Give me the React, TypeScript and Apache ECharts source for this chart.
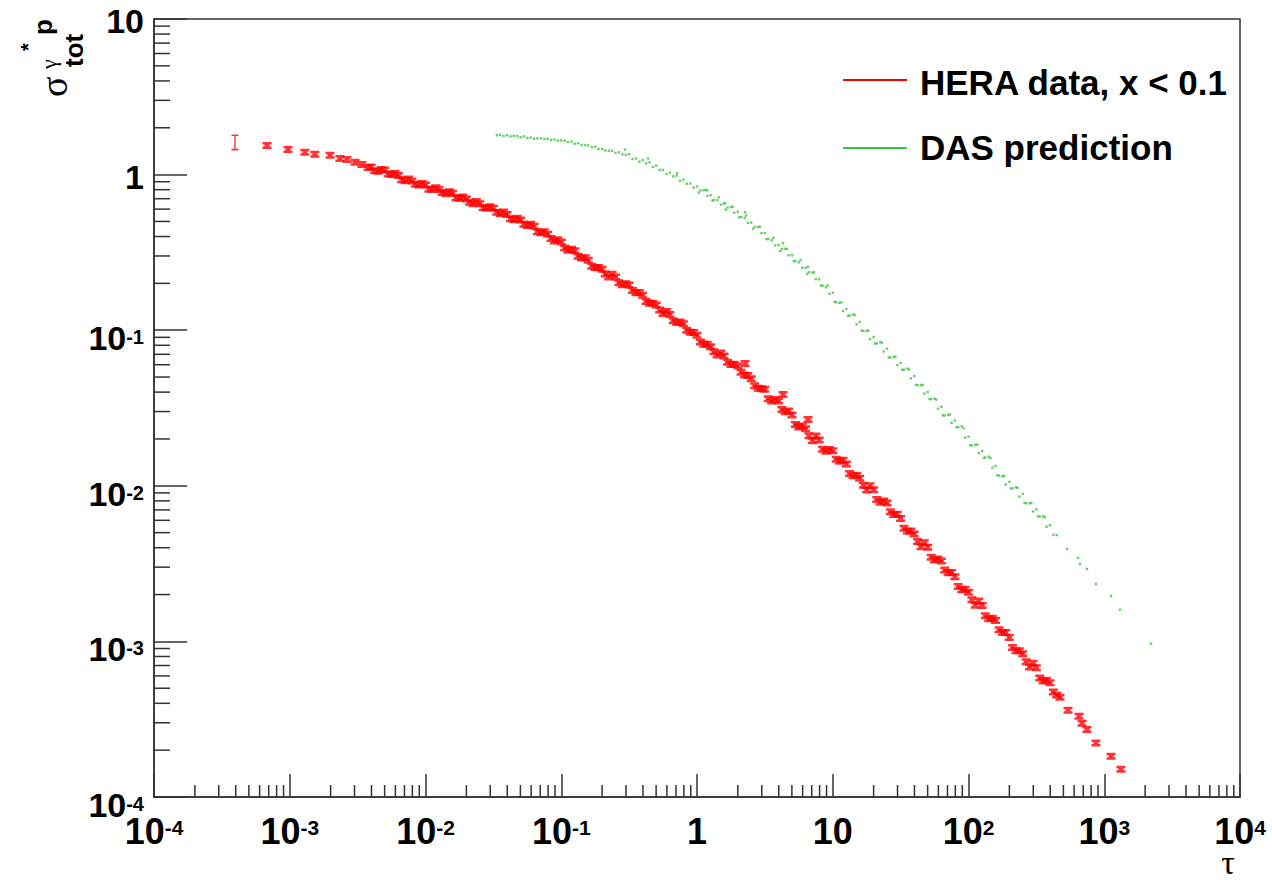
import React, { useEffect, useRef } from "react";
import * as echarts from "echarts";

// HERA data, x < 0.1 : [tau, sigma_tot(gamma* p)]
const heraData: [number, number][] = [
  [3.95e-4, 1.61], [6.8e-4, 1.54], [9.7e-4, 1.45], [1.29e-3, 1.39], [1.53e-3, 1.35],
  [1.98e-3, 1.33], [2.34e-3, 1.27], [2.64e-3, 1.25], [3.03e-3, 1.2], [3.4e-3, 1.16], [3.77e-3, 1.11],
  [3.98e-3, 1.12], [4.22e-3, 1.06], [4.47e-3, 1.05], [4.73e-3, 1.08], [5.01e-3, 1.07], [5.31e-3, 1.01],
  [5.62e-3, 1.0], [5.96e-3, 1.02], [6.31e-3, 0.986], [6.68e-3, 0.926], [7.08e-3, 0.912], [7.5e-3, 0.937],
  [7.94e-3, 0.91], [8.41e-3, 0.866], [8.91e-3, 0.857], [9.44e-3, 0.878],
  [1.0e-2, 0.857], [1.06e-2, 0.806], [1.12e-2, 0.804], [1.19e-2, 0.824], [1.26e-2, 0.802], [1.33e-2, 0.767],
  [1.41e-2, 0.753], [1.5e-2, 0.776], [1.58e-2, 0.759], [1.68e-2, 0.708], [1.78e-2, 0.706], [1.88e-2, 0.717],
  [2.0e-2, 0.698], [2.11e-2, 0.663], [2.24e-2, 0.649], [2.37e-2, 0.671], [2.51e-2, 0.649], [2.66e-2, 0.612],
  [2.82e-2, 0.61], [2.99e-2, 0.621], [3.16e-2, 0.608], [3.35e-2, 0.573], [3.55e-2, 0.561], [3.76e-2, 0.575],
  [3.98e-2, 0.555], [4.22e-2, 0.521], [4.47e-2, 0.512], [4.73e-2, 0.524], [5.01e-2, 0.511], [5.31e-2, 0.48],
  [5.62e-2, 0.471], [5.96e-2, 0.479], [6.31e-2, 0.465], [6.68e-2, 0.43], [7.08e-2, 0.423], [7.5e-2, 0.429],
  [7.94e-2, 0.413], [8.41e-2, 0.388], [8.91e-2, 0.375], [9.44e-2, 0.381],
  [0.1, 0.369], [0.106, 0.337], [0.112, 0.327], [0.119, 0.331], [0.126, 0.324], [0.133, 0.299], [0.141, 0.291],
  [0.15, 0.292], [0.158, 0.282], [0.168, 0.258], [0.178, 0.252], [0.188, 0.253], [0.2, 0.246], [0.211, 0.23],
  [0.224, 0.22], [0.237, 0.229], [0.251, 0.22], [0.266, 0.202], [0.282, 0.196], [0.299, 0.199], [0.316, 0.195],
  [0.335, 0.18], [0.355, 0.174], [0.376, 0.175], [0.398, 0.168], [0.422, 0.153], [0.447, 0.149], [0.473, 0.149],
  [0.501, 0.145], [0.531, 0.135], [0.562, 0.128], [0.596, 0.132], [0.631, 0.126], [0.668, 0.115], [0.708, 0.112],
  [0.75, 0.113], [0.794, 0.11], [0.841, 0.1], [0.891, 0.097], [0.944, 0.0968],
  [1.0, 0.0927], [1.06, 0.0841], [1.12, 0.0813], [1.19, 0.0811], [1.26, 0.0783], [1.33, 0.0727], [1.41, 0.0692],
  [1.5, 0.0714], [1.58, 0.0682], [1.68, 0.0622], [1.78, 0.0601], [1.88, 0.0605], [2.0, 0.0589], [2.11, 0.0536],
  [2.24, 0.0515], [2.37, 0.0512], [2.51, 0.0488], [2.66, 0.044], [2.82, 0.0424], [2.99, 0.042],
  [3.16, 0.0417], [3.35, 0.0363], [3.55, 0.0351], [3.76, 0.0359], [3.98, 0.0351], [4.22, 0.0309], [4.47, 0.0299],
  [4.73, 0.0302], [5.01, 0.0285], [5.31, 0.0248], [5.62, 0.0239], [5.96, 0.0242], [6.31, 0.0233], [6.68, 0.021],
  [7.08, 0.0195], [7.5, 0.0209], [7.94, 0.0197], [8.41, 0.0172], [8.91, 0.0167], [9.44, 0.0171],
  [10.0, 0.0168], [10.6, 0.0148], [11.2, 0.0144], [11.9, 0.0146], [12.6, 0.0138], [13.3, 0.012], [14.1, 0.0116],
  [15.0, 0.0117], [15.8, 0.0112], [16.8, 0.0101], [17.8, 0.0094], [18.8, 0.01], [20.0, 0.00944], [21.1, 0.00818],
  [22.4, 0.00785], [23.7, 0.00799], [25.1, 0.00776], [26.6, 0.0068], [28.2, 0.00653], [29.9, 0.00657],
  [31.6, 0.00617], [33.5, 0.00533], [35.5, 0.00511], [37.6, 0.00512], [39.8, 0.0049], [42.2, 0.00438],
  [44.7, 0.00406], [47.3, 0.00431], [50.1, 0.00403], [53.1, 0.00348], [56.2, 0.00334], [59.6, 0.00339],
  [63.1, 0.00329], [66.8, 0.00288], [70.8, 0.00276], [75.0, 0.00277], [79.4, 0.0026], [84.1, 0.00225],
  [89.1, 0.00215], [94.4, 0.00216],
  [100, 0.00207], [106, 0.00185], [112, 0.00171], [119, 0.00182], [126, 0.0017], [133, 0.00146], [141, 0.0014],
  [150, 0.00141], [158, 0.00136], [168, 0.00119], [178, 0.00114], [188, 0.00114], [200, 0.00106], [211, 0.000912],
  [224, 0.000871], [237, 0.000871], [251, 0.000832], [266, 0.000741], [282, 0.000684], [299, 0.000724],
  [316, 0.000676], [335, 0.000582], [355, 0.000556], [376, 0.000562], [398, 0.000543], [422, 0.000473],
  [447, 0.000452], [472, 0.000437], [541, 0.000361], [652, 0.00033], [686, 0.000298], [746, 0.000272],
  [869, 0.000222], [1122, 0.000183], [1327, 0.000151],
  [2.26, 0.061], [4.3, 0.0386], [6.58, 0.0267],
];

// DAS prediction : [tau, sigma]
const dasData: [number, number][] = [
  [0.0336, 1.79], [0.0355, 1.8], [0.0376, 1.77], [0.0398, 1.79], [0.0422, 1.76], [0.0447, 1.77], [0.0473, 1.77],
  [0.0501, 1.74], [0.0531, 1.76], [0.0562, 1.72], [0.0596, 1.73], [0.0631, 1.7], [0.0668, 1.71], [0.0708, 1.71],
  [0.075, 1.69], [0.0794, 1.7], [0.0841, 1.67], [0.0891, 1.68], [0.0944, 1.65], [0.1, 1.66], [0.106, 1.65],
  [0.112, 1.62], [0.119, 1.63], [0.126, 1.58], [0.133, 1.59], [0.141, 1.55], [0.15, 1.55], [0.158, 1.54],
  [0.168, 1.5], [0.178, 1.51], [0.188, 1.46], [0.2, 1.46], [0.211, 1.43], [0.224, 1.42], [0.237, 1.42],
  [0.251, 1.38], [0.266, 1.39], [0.282, 1.35], [0.299, 1.34],
  [0.316, 1.35], [0.335, 1.26], [0.355, 1.27], [0.376, 1.21], [0.398, 1.24], [0.422, 1.18], [0.447, 1.2],
  [0.473, 1.12], [0.501, 1.14], [0.531, 1.07], [0.562, 1.07], [0.596, 1.01], [0.631, 1.03], [0.668, 0.974],
  [0.708, 0.984], [0.75, 0.911], [0.794, 0.929], [0.841, 0.872], [0.891, 0.877], [0.944, 0.824],
  [1.0, 0.839], [1.06, 0.791], [1.12, 0.793], [1.19, 0.729], [1.26, 0.738], [1.33, 0.687], [1.41, 0.685],
  [1.5, 0.641], [1.58, 0.65], [1.68, 0.614], [1.78, 0.618], [1.88, 0.569], [2.0, 0.577], [2.11, 0.533],
  [2.24, 0.527], [2.37, 0.489], [2.51, 0.491], [2.66, 0.461], [2.82, 0.461], [2.99, 0.42], [3.16, 0.421],
  [3.35, 0.385], [3.55, 0.378], [3.76, 0.351], [3.98, 0.353], [4.22, 0.332], [4.47, 0.333], [4.73, 0.303],
  [5.01, 0.303], [5.31, 0.278], [5.62, 0.273], [5.96, 0.252], [6.31, 0.252], [6.68, 0.236], [7.08, 0.235],
  [7.5, 0.213], [7.94, 0.212], [8.41, 0.193], [8.91, 0.189], [9.44, 0.171],
  [10.0, 0.174], [10.6, 0.151], [11.2, 0.15], [11.9, 0.133], [12.6, 0.137], [13.3, 0.124], [14.1, 0.126],
  [15.0, 0.109], [15.8, 0.113], [16.8, 0.099], [17.8, 0.0989], [18.8, 0.0876], [20.0, 0.0904], [21.1, 0.0824],
  [22.4, 0.0839], [23.7, 0.073], [25.1, 0.076], [26.6, 0.0668], [28.2, 0.0671], [29.9, 0.0596], [31.6, 0.0615],
  [33.5, 0.0558], [35.5, 0.0566], [37.6, 0.049], [39.8, 0.0507], [42.2, 0.0444], [44.7, 0.0444], [47.3, 0.0391],
  [50.1, 0.0401], [53.1, 0.0361], [56.2, 0.0363], [59.6, 0.0313], [63.1, 0.0322], [66.8, 0.0283], [70.8, 0.0285],
  [75.0, 0.0254], [79.4, 0.0263], [84.1, 0.0238], [89.1, 0.0241], [94.4, 0.0204],
  [100, 0.0207], [106, 0.0182], [112, 0.0183], [119, 0.0162], [126, 0.0167], [133, 0.0152], [141, 0.0154],
  [150, 0.0131], [158, 0.0134], [168, 0.0116], [178, 0.0115], [188, 0.0102], [200, 0.0106], [211, 0.00964],
  [224, 0.00979], [237, 0.00852], [251, 0.00887], [266, 0.00773], [282, 0.00771], [299, 0.00684], [316, 0.00706],
  [335, 0.00635], [355, 0.00638], [376, 0.00546], [398, 0.00558], [422, 0.00485], [447, 0.00482],
  [532, 0.00393], [641, 0.00344], [662, 0.00315], [746, 0.00292], [869, 0.00234], [1122, 0.00196],
  [1306, 0.0016], [2208, 0.000968],
  [0.295, 1.45], [0.436, 1.27], [0.713, 1.02], [1.19, 0.792], [1.61, 0.655], [2.26, 0.573], [4.3, 0.363], [6.58, 0.255],
  [1.03, 0.766], [1.16, 0.798], [1.3, 0.681], [1.45, 0.714], [1.63, 0.595], [1.83, 0.622], [2.05, 0.531],
  [2.3, 0.546], [2.59, 0.448], [2.9, 0.462], [3.25, 0.385], [3.65, 0.392], [4.1, 0.322], [4.6, 0.333],
  [5.16, 0.278], [5.79, 0.282], [6.49, 0.23], [7.29, 0.235], [8.18, 0.194], [9.17, 0.194],
  [10.3, 0.152], [11.6, 0.151], [13.0, 0.124], [14.5, 0.125], [16.3, 0.0994], [18.3, 0.0995], [20.5, 0.082],
  [23.0, 0.0831], [25.9, 0.0669], [29.0, 0.0676], [32.5, 0.0557], [36.5, 0.0559], [41.0, 0.0445], [46.0, 0.0445],
  [51.6, 0.0361], [57.9, 0.0358], [64.9, 0.0284], [72.9, 0.0288], [81.8, 0.0238], [91.7, 0.0235],
  [103, 0.0182], [116, 0.0184], [130, 0.0151], [145, 0.0151], [163, 0.0117], [183, 0.0116], [205, 0.0096],
  [230, 0.0097], [259, 0.00778], [290, 0.00776], [325, 0.00637], [365, 0.00627],
];

const xDecades = [-4, -3, -2, -1, 0, 1, 2, 3];
const yDecades = [-4, -3, -2, -1, 0];
const minorMultipliers = [2, 3, 4, 5, 6, 7, 8, 9];

const legendNames = ["HERA data, x < 0.1", "DAS prediction"];
const RED = "#ff0000";
const GREEN = "#3fc43f";
const AXIS = "#333333";
const SANS = '"Liberation Sans", Arial, Helvetica, sans-serif';
const SERIF = '"Liberation Serif", "DejaVu Serif", serif';

const X_MIN = 1e-4, X_MAX = 1e4, Y_MIN = 1e-4, Y_MAX = 10;

function expOf(v: number) {
  return Math.round(Math.log10(v));
}

export default function App() {
  const ref = useRef<HTMLDivElement>(null);
  useEffect(() => {
    if (!ref.current) return;
    const chart = echarts.init(ref.current, undefined, { renderer: "svg" });

    const xMinor: number[][] = [];
    xDecades.forEach((d) => minorMultipliers.forEach((m) => xMinor.push([m * Math.pow(10, d), Y_MIN])));
    const yMinor: number[][] = [];
    yDecades.forEach((d) => minorMultipliers.forEach((m) => yMinor.push([X_MIN, m * Math.pow(10, d)])));

    const IShape = "path://M0,0H9V2.5H7V4.5H9V7H0V4.5H2V2.5H0Z";
    const TallI = "path://M0,0H7V1.6H4.2V14.4H7V16H0V14.4H2.8V1.6H0Z";

    const rot = Math.PI / 2;
    const titleText = (x: number, y: number, text: string, font: string) => ({
      type: "text", x, y, rotation: rot,
      style: { text, font, fill: "#000", align: "left", verticalAlign: "middle" },
    });

    const option: any = {
      animation: false,
      backgroundColor: "#ffffff",
      grid: {
        left: 154, top: 16, right: 32, bottom: 83,
        show: true, borderColor: AXIS, borderWidth: 1.5, backgroundColor: "transparent",
      },
      xAxis: {
        type: "log", logBase: 10, min: X_MIN, max: X_MAX, splitNumber: 8,
        axisLine: { show: true, lineStyle: { color: AXIS, width: 1.5 } },
        axisTick: { show: true, inside: true, length: 23, lineStyle: { color: AXIS, width: 1.5 } },
        splitLine: { show: false },
        axisLabel: {
          margin: 20,
          formatter: (v: number) => {
            const e = expOf(v);
            if (e === 0) return "{b|1}";
            if (e === 1) return "{b|10}";
            return "{b|10}{s|" + e + "}";
          },
          rich: {
            b: { fontSize: 36, fontWeight: "bold", fontFamily: SANS, color: "#000", lineHeight: 28 },
            s: { fontSize: 21, fontWeight: "bold", fontFamily: SANS, color: "#000", lineHeight: 16, verticalAlign: "top" },
          },
        },
      },
      yAxis: {
        type: "log", logBase: 10, min: Y_MIN, max: Y_MAX, splitNumber: 5,
        axisLine: { show: true, lineStyle: { color: AXIS, width: 1.5 } },
        axisTick: { show: true, inside: true, length: 33, lineStyle: { color: AXIS, width: 1.5 } },
        splitLine: { show: false },
        axisLabel: {
          margin: 10,
          formatter: (v: number) => {
            const e = expOf(v);
            if (e === 0) return "{c|1}";
            if (e === 1) return "{c|10}";
            return "{b|10}{s|" + e + "}";
          },
          rich: {
            b: { fontSize: 34, fontWeight: "bold", fontFamily: SANS, color: "#000", lineHeight: 34, padding: [16, 0, 0, 0] },
            c: { fontSize: 34, fontWeight: "bold", fontFamily: SANS, color: "#000", lineHeight: 34, padding: [4, 0, 0, 0] },
            s: { fontSize: 20, fontWeight: "bold", fontFamily: SANS, color: "#000", lineHeight: 20, verticalAlign: "top", padding: [14, 0, 0, 0] },
          },
        },
      },
      series: [
        {
          name: legendNames[1],
          type: "scatter",
          symbol: "rect",
          symbolSize: 2.4,
          itemStyle: { color: GREEN },
          data: dasData,
          silent: true,
          z: 3,
        },
        {
          name: legendNames[0],
          type: "scatter",
          symbol: IShape,
          symbolKeepAspect: false,
          symbolSize: [9, 7],
          itemStyle: { color: RED },
          data: heraData.map((p, i) => (i === 0 ? { value: p, symbolSize: [7, 16], symbol: TallI } : p)),
          silent: true,
          z: 4,
        },
        {
          type: "custom",
          silent: true,
          data: xMinor,
          z: 5,
          renderItem: (params: any, api: any) => {
            const p = api.coord([api.value(0), api.value(1)]);
            return {
              type: "line",
              shape: { x1: p[0], y1: p[1], x2: p[0], y2: p[1] - 12 },
              style: { stroke: AXIS, lineWidth: 1.5 },
            };
          },
        },
        {
          type: "custom",
          silent: true,
          data: yMinor,
          z: 5,
          renderItem: (params: any, api: any) => {
            const p = api.coord([api.value(0), api.value(1)]);
            return {
              type: "line",
              shape: { x1: p[0], y1: p[1], x2: p[0] + 16, y2: p[1] },
              style: { stroke: AXIS, lineWidth: 1.5 },
            };
          },
        },
      ],
      graphic: [
        { type: "line", shape: { x1: 843, y1: 80, x2: 907, y2: 80 }, style: { stroke: RED, lineWidth: 2 } },
        {
          type: "text", x: 920, y: 82,
          style: { text: legendNames[0], font: "bold 35px " + SANS, fill: "#000", align: "left", verticalAlign: "middle" },
        },
        { type: "line", shape: { x1: 843, y1: 148, x2: 907, y2: 148 }, style: { stroke: GREEN, lineWidth: 2 } },
        {
          type: "text", x: 920, y: 147,
          style: { text: legendNames[1], font: "bold 35px " + SANS, fill: "#000", align: "left", verticalAlign: "middle" },
        },
        // x axis title
        {
          type: "text", x: 1228, y: 862,
          style: { text: "τ", font: "34px " + SERIF, lineHeight: 34, fill: "#000", align: "center", verticalAlign: "middle" },
        },
        // y axis title: sigma^{gamma^* p}_{tot}, rotated to read bottom-to-top
        titleText(54, 97, "σ", "38px " + SERIF),
        titleText(48, 69, "γ", "22px " + SERIF),
        titleText(28, 51, "*", "bold 20px " + SANS),
        titleText(74, 67, "tot", "bold 26px " + SANS),
        titleText(43, 35, "p", "bold 26px " + SANS),
      ],
    };
    chart.setOption(option);
    return () => chart.dispose();
  }, []);

  return (
    <div
      ref={ref}
      style={{ position: "fixed", left: 0, top: 0, width: 1272, height: 880, background: "#fff" }}
    />
  );
}
